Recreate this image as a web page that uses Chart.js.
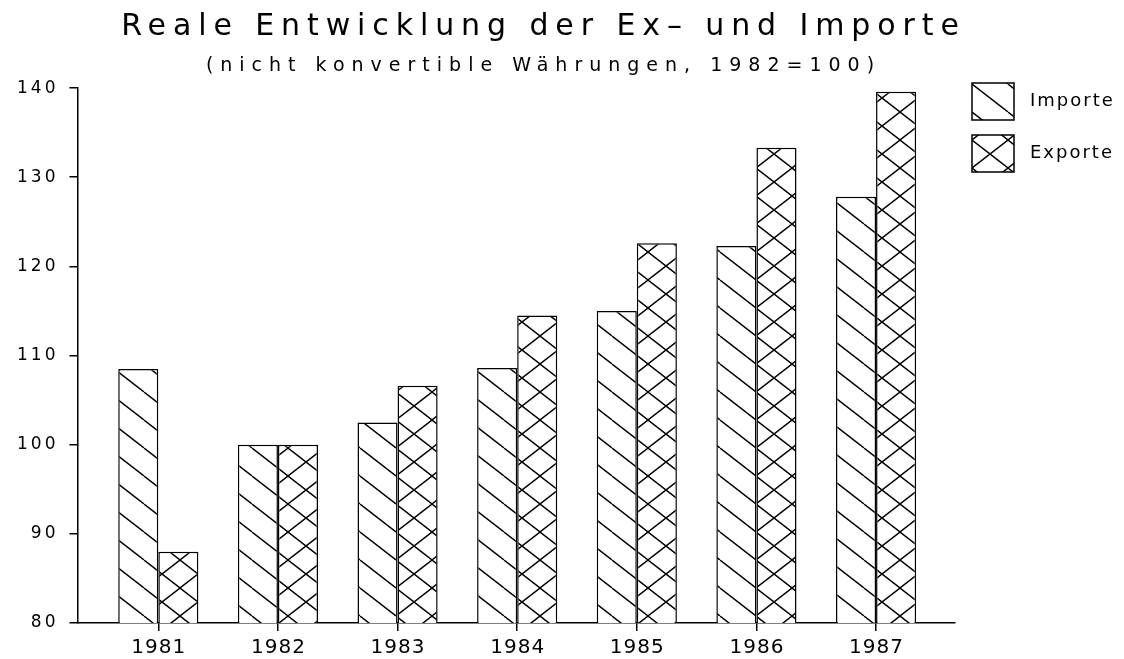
<!DOCTYPE html>
<html>
<head>
<meta charset="utf-8">
<script src="https://cdn.jsdelivr.net/npm/chart.js@4/dist/chart.umd.min.js"></script>
<style>
  html,body{margin:0;padding:0;background:#fff;}
  #wrap{width:1124px;height:659px;}
</style>
</head>
<body>
<div id="wrap"><canvas id="c" width="1124" height="659"></canvas></div>
<script>
const years = [1981, 1982, 1983, 1984, 1985, 1986, 1987];
const importe = [108.5, 100.0, 102.5, 108.6, 115.0, 122.3, 127.8];
const exporte = [88.0, 100.0, 106.6, 114.5, 122.6, 133.3, 139.6];
const yTicks = [80, 90, 100, 110, 120, 130, 140];
const seriesNames = ['Importe', 'Exporte'];
const titleText = 'Reale Entwicklung der Ex\u2013 und Importe';
const subtitleText = '(nicht konvertible W\u00e4hrungen, 1982=100)';

const FONT = '"DejaVu Sans", sans-serif';
// letter spacing (px) per font size, to imitate the wide plotter lettering
const spacingBySize = { 30: 6.9, 19: 7.0, 20: 1, 17: 3, 18: 2 };

function hatch(cross) {
  const w = 36, h = 28;
  const c = document.createElement('canvas');
  c.width = w; c.height = h;
  const x = c.getContext('2d');
  x.fillStyle = '#fff';
  x.fillRect(0, 0, w, h);
  x.strokeStyle = '#000';
  x.lineWidth = 1.4;
  x.beginPath();
  for (let k = -1; k <= 1; k++) {
    x.moveTo(k * w, 0); x.lineTo(k * w + w, h);
    if (cross) { x.moveTo(k * w, h); x.lineTo(k * w + w, 0); }
  }
  x.stroke();
  return x.createPattern(c, 'repeat');
}
const pImp = hatch(false);
const pExp = hatch(true);

const spacingPlugin = {
  id: 'letterSpacing',
  beforeInit(chart) {
    const ctx = chart.ctx;
    const orig = ctx.fillText;
    ctx.fillText = function (t, x, y, mw) {
      const m = /(\d+(?:\.\d+)?)px/.exec(this.font);
      const s = m ? (spacingBySize[Math.round(parseFloat(m[1]))] || 0) : 0;
      if (!s || !('letterSpacing' in this)) {
        return mw === undefined ? orig.call(this, t, x, y) : orig.call(this, t, x, y, mw);
      }
      const prev = this.letterSpacing;
      this.letterSpacing = s + 'px';
      const a = this.textAlign;
      if (a === 'center') x += s / 2;
      else if (a === 'right' || a === 'end') x += s;
      if (mw === undefined) orig.call(this, t, x, y); else orig.call(this, t, x, y, mw);
      this.letterSpacing = prev;
    };
  }
};

const legendPlugin = {
  id: 'sideLegend',
  afterDraw(chart) {
    const ctx = chart.ctx;
    const x0 = 972, y0 = 83, bw = 42, bh = 37, gap = 52;
    ctx.save();
    chart.data.datasets.forEach((ds, i) => {
      const y = y0 + i * gap;
      ctx.fillStyle = ds.backgroundColor;
      ctx.fillRect(x0, y, bw, bh);
      ctx.strokeStyle = '#000';
      ctx.lineWidth = 1.5;
      ctx.strokeRect(x0, y, bw, bh);
      ctx.fillStyle = '#000';
      ctx.font = '18px ' + FONT;
      ctx.textBaseline = 'middle';
      ctx.textAlign = 'left';
      ctx.fillText(ds.label, x0 + 58, y + bh / 2);
    });
    ctx.restore();
  }
};

new Chart(document.getElementById('c'), {
  type: 'bar',
  data: {
    datasets: [
      {
        label: seriesNames[0],
        data: years.map((y, i) => ({ x: y, y: importe[i] })),
        backgroundColor: pImp,
        borderColor: '#000',
        borderWidth: 1.5,
        borderSkipped: 'bottom'
      },
      {
        label: seriesNames[1],
        data: years.map((y, i) => ({ x: y, y: exporte[i] })),
        backgroundColor: pExp,
        borderColor: '#000',
        borderWidth: 1.5,
        borderSkipped: 'bottom'
      }
    ]
  },
  options: {
    responsive: false,
    animation: false,
    events: [],
    categoryPercentage: 0.67,
    barPercentage: 1.0,
    layout: { padding: { top: 4, left: 9, right: 53, bottom: -6 } },
    plugins: {
      legend: { display: false },
      tooltip: { enabled: false },
      title: {
        display: true,
        text: titleText,
        color: '#000',
        font: { family: FONT, size: 30, weight: 'normal' },
        padding: { top: 5.5, bottom: 4 }
      },
      subtitle: {
        display: true,
        text: subtitleText,
        color: '#000',
        font: { family: FONT, size: 19, weight: 'normal' },
        padding: { top: 4.8, bottom: 11 }
      }
    },
    scales: {
      x: {
        type: 'linear',
        offset: false,
        min: 1980.324,
        max: 1987.66,
        ticks: {
          stepSize: 1,
          includeBounds: false,
          color: '#000',
          font: { family: FONT, size: 20 },
          padding: 5,
          maxRotation: 0,
          autoSkip: false,
          callback: v => String(v)
        },
        grid: { offset: false, drawOnChartArea: false, tickLength: 8, color: '#000', lineWidth: 1.5 },
        border: { color: '#000', width: 1.5 }
      },
      y: {
        min: yTicks[0],
        max: yTicks[yTicks.length - 1],
        afterBuildTicks: axis => { axis.ticks = yTicks.map(v => ({ value: v })); },
        ticks: {
          color: '#000',
          font: { family: FONT, size: 17 },
          padding: 14
        },
        grid: { drawOnChartArea: false, tickLength: 8, color: '#000', lineWidth: 1.5 },
        border: { color: '#000', width: 1.5 }
      },
      legendSpace: {
        type: 'linear',
        position: 'right',
        display: true,
        ticks: { display: false },
        grid: { display: false, drawTicks: false },
        border: { display: false },
        afterFit: s => { s.width = 116; }
      }
    }
  },
  plugins: [spacingPlugin, legendPlugin]
});
</script>
</body>
</html>
